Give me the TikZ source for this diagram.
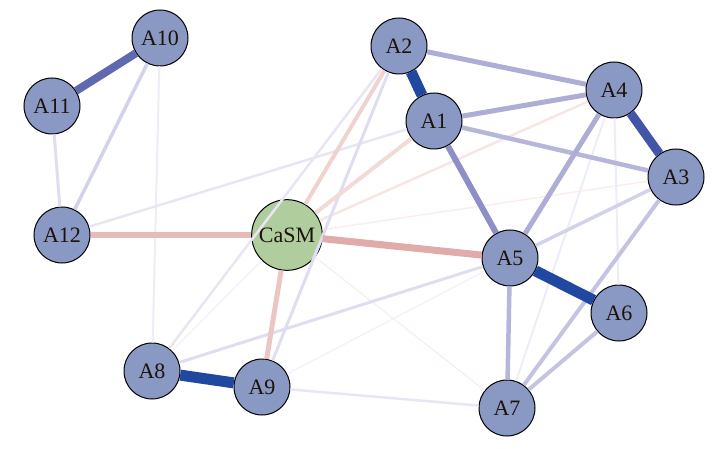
\documentclass[tikz,border=0pt]{standalone}
\usepackage{tikz}
\usepackage{fontspec}
\setmainfont{Liberation Serif}

\definecolor{nodeblue}{RGB}{137,153,196}
\definecolor{nodegreen}{RGB}{176,205,158}
\definecolor{bdark}{RGB}{32,72,160}
\definecolor{bthree}{RGB}{65,86,166}
\definecolor{bfour}{RGB}{95,105,176}
\definecolor{bfive}{RGB}{142,143,198}
\definecolor{bsix}{RGB}{173,173,214}
\definecolor{bseven}{RGB}{182,182,218}
\definecolor{beight}{RGB}{196,196,226}
\definecolor{bnine}{RGB}{210,210,234}
\definecolor{bten}{RGB}{222,222,240}
\definecolor{beleven}{RGB}{231,231,244}
\definecolor{btwelve}{RGB}{237,237,247}
\definecolor{bthirteen}{RGB}{243,243,249}
\definecolor{rone}{RGB}{224,171,168}
\definecolor{rtwo}{RGB}{230,187,184}
\definecolor{rthree}{RGB}{235,198,195}
\definecolor{rfour}{RGB}{240,211,207}
\definecolor{rfive}{RGB}{242,218,214}
\definecolor{rsix}{RGB}{247,230,228}
\definecolor{rseven}{RGB}{250,238,237}

\tikzset{every picture/.style={line width=0.75pt}}
\tikzset{
  anode/.style={circle, draw=black, fill=nodeblue, minimum size=42pt, inner sep=0pt, line width=0.75pt, text=black!85!brown, font=\fontsize{16.5}{19}\selectfont},
  hubnode/.style={anode, fill=nodegreen, minimum size=53pt},
  wire/.style={line width=#1*0.75pt}
}

\begin{document}
\begin{tikzpicture}[x=0.75pt,y=0.75pt,yscale=-1,xscale=1]
%set diagram left start at 0, and has height of 449
\useasboundingbox (0,0) rectangle (721,449);

%Shape: Circle
\node [anode] (A10) at (160,38) {A10};
%Shape: Circle
\node [anode] (A11) at (52,106) {A11};
%Shape: Circle
\node [anode] (A12) at (62,235) {A12};
%Shape: Circle
\node [hubnode] (CaSM) at (287,235) {CaSM};
%Shape: Circle
\node [anode] (A2) at (399,46) {A2};
%Shape: Circle
\node [anode] (A1) at (434,121) {A1};
%Shape: Circle
\node [anode] (A4) at (614,90) {A4};
%Shape: Circle
\node [anode] (A3) at (676,177) {A3};
%Shape: Circle
\node [anode] (A5) at (510,258) {A5};
%Shape: Circle
\node [anode] (A6) at (619,313) {A6};
%Shape: Circle
\node [anode] (A7) at (507,408) {A7};
%Shape: Circle
\node [anode] (A8) at (152,371) {A8};
%Shape: Circle
\node [anode] (A9) at (262,387) {A9};

%Straight Lines - faint
\draw [bthirteen, wire=1.5] (A9) -- (A5) ;
\draw [bthirteen, wire=1.5] (A8) -- (CaSM) ;
\draw [rseven, wire=1.5] (CaSM) -- (A3) ;
\draw [rseven, wire=1.3] (CaSM) -- (A7) ;
\draw [btwelve, wire=2] (A10) -- (A8) ;
\draw [btwelve, wire=2] (A4) -- (A7) ;
\draw [btwelve, wire=2] (A4) -- (A6) ;
\draw [beleven, wire=2.5] (A12) -- (A1) ;
\draw [beleven, wire=2.5] (A9) -- (A7) ;
\draw [beleven, wire=2.5] (A8) -- (A2) ;
\draw [rsix, wire=2.5] (CaSM) -- (A4) ;
%Straight Lines - light
\draw [bten, wire=3] (A11) -- (A12) ;
\draw [bten, wire=3] (A8) -- (A5) ;
\draw [bten, wire=3] (A9) -- (A2) ;
\draw [bnine, wire=3.5] (A3) -- (A5) ;
\draw [bnine, wire=3.5] (A10) -- (A12) ;
\draw [rfour, wire=4] (CaSM) -- (A2) ;
\draw [rfive, wire=4] (CaSM) -- (A1) ;
\draw [beight, wire=4] (A6) -- (A7) ;
\draw [beight, wire=4] (A3) -- (A7) ;
%Straight Lines - medium
\draw [bseven, wire=4.5] (A1) -- (A3) ;
\draw [bseven, wire=4.5] (A5) -- (A7) ;
\draw [bsix, wire=5] (A2) -- (A4) ;
\draw [bsix, wire=5] (A1) -- (A4) ;
\draw [bsix, wire=5] (A4) -- (A5) ;
\draw [rthree, wire=5] (CaSM) -- (A9) ;
\draw [rtwo, wire=6] (CaSM) -- (A12) ;
\draw [rone, wire=7] (CaSM) -- (A5) ;
\draw [bfive, wire=6] (A1) -- (A5) ;
%Straight Lines - strong
\draw [bfour, wire=8] (A10) -- (A11) ;
\draw [bthree, wire=9] (A4) -- (A3) ;
\draw [bdark, wire=11] (A2) -- (A1) ;
\draw [bdark, wire=11] (A5) -- (A6) ;
\draw [bdark, wire=11] (A8) -- (A9) ;
\end{tikzpicture}
\end{document}
